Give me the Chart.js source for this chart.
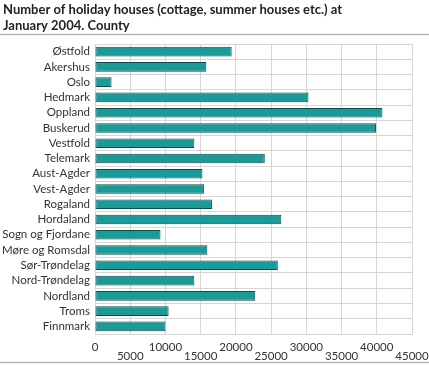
<!DOCTYPE html>
<html>
<head>
<meta charset="utf-8">
<script src="https://cdn.jsdelivr.net/npm/chart.js@4.4.0/dist/chart.umd.min.js"></script>
<style>
  html, body { margin: 0; padding: 0; background: #fff; }
  #wrap { width: 429px; height: 365px; position: relative; }
</style>
</head>
<body>
<div id="wrap"><canvas id="myChart"></canvas></div>
<script>
'use strict';
// data
const counties = ['Østfold', 'Akershus', 'Oslo', 'Hedmark', 'Oppland', 'Buskerud', 'Vestfold', 'Telemark',
    'Aust-Agder', 'Vest-Agder', 'Rogaland', 'Hordaland', 'Sogn og Fjordane', 'Møre og Romsdal',
    'Sør-Trøndelag', 'Nord-Trøndelag', 'Nordland', 'Troms', 'Finnmark'];
const holidayHouses = [19400, 15800, 2350, 30300, 40800, 39900, 14100, 24100,
    15250, 15500, 16600, 26450, 9300, 15950, 25950, 14100, 22750, 10450, 10000];
const titleLines = ['Number of holiday houses (cottage, summer houses etc.) at', 'January 2004. County'];
const xMax = 45000;
const xStep = 5000;

const FONT = 'Lato, sans-serif';
const tickFont = { family: FONT, size: 11.5 };

// title + rules
const decor = {
    id: 'decor',
    afterDraw(chart) {
        const c = chart.ctx;
        c.save();
        c.fillStyle = '#222';
        c.font = 'bold 13px ' + FONT;
        c.textBaseline = 'alphabetic';
        c.fillText(titleLines[0], 3, 14);
        c.fillText(titleLines[1], 3, 30);
        c.strokeStyle = '#b3b3b3';
        c.lineWidth = 1.5;
        c.beginPath();
        c.moveTo(0, 34.5);
        c.lineTo(429, 34.5);
        c.moveTo(0, 362.5);
        c.lineTo(429, 362.5);
        c.stroke();
        c.restore();
    }
};

const even = v => Math.round(v / xStep) % 2 === 0;

const ctx = document.getElementById('myChart');
const myChart = new Chart(ctx.getContext('2d'), {
    type: 'bar',
    data: {
        labels: counties,
        datasets: [{
            data: holidayHouses,
            backgroundColor: '#1a9a98',
            borderColor: '#0f4d4b',
            borderWidth: 1,
            borderSkipped: false,
            barPercentage: 0.63,
            categoryPercentage: 1
        }]
    },
    options: {
        indexAxis: 'y',
        responsive: true,
        maintainAspectRatio: false,
        animation: false,
        layout: { padding: { top: 44, right: 17, bottom: 0, left: 0 } },
        plugins: {
            legend: { display: false },
            tooltip: { enabled: false }
        },
        scales: {
            // top row of staggered tick labels
            x: {
                position: 'bottom',
                weight: 0,
                min: 0,
                max: xMax,
                ticks: {
                    stepSize: xStep,
                    padding: 6,
                    color: '#333',
                    font: tickFont,
                    maxRotation: 0,
                    autoSkip: false,
                    callback: value => even(value) ? String(value) : ''
                },
                grid: { color: '#d6d6d6', drawTicks: false },
                border: { color: '#d6d6d6' },
                afterFit: scale => { scale.height = 17; }
            },
            // bottom row
            x2: {
                position: 'bottom',
                weight: 1,
                min: 0,
                max: xMax,
                ticks: {
                    stepSize: xStep,
                    padding: -2,
                    color: '#333',
                    font: tickFont,
                    maxRotation: 0,
                    autoSkip: false,
                    callback: value => even(value) ? '' : String(value)
                },
                grid: { display: false, drawTicks: false },
                border: { display: false },
                afterFit: scale => { scale.height = 14; }
            },
            y: {
                ticks: {
                    padding: 5,
                    color: '#333',
                    font: { family: FONT, size: 11.5 },
                    autoSkip: false
                },
                grid: { color: '#d6d6d6', drawTicks: false },
                border: { color: '#d6d6d6' },
                afterFit: scale => { scale.width = 95; }
            }
        }
    },
    plugins: [decor]
});
</script>
</body>
</html>
